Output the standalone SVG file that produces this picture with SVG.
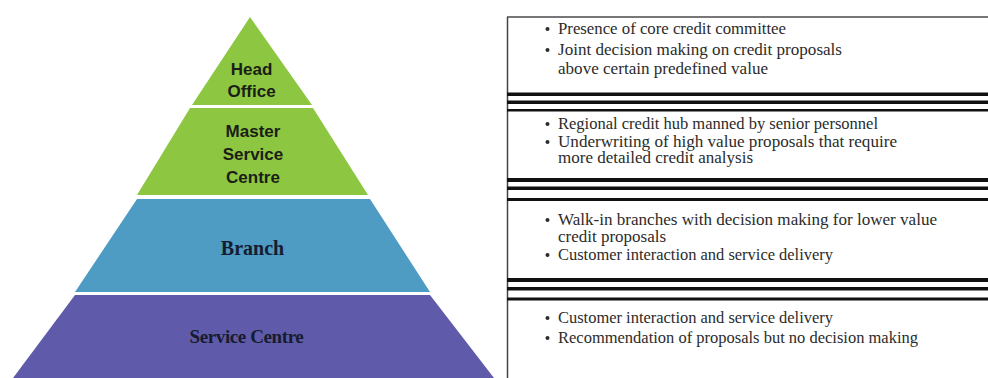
<svg xmlns="http://www.w3.org/2000/svg" width="988" height="378" viewBox="0 0 988 378">
<style>
.tier-label{font-family:"Liberation Sans",Arial,sans-serif;font-weight:bold;font-size:17px;fill:#1b1d17;text-anchor:middle}
.serif-label{font-family:"Liberation Serif","Times New Roman",serif;font-weight:bold;fill:#161c30;text-anchor:middle}
.desc{font-family:"Liberation Serif","Times New Roman",serif;font-size:16px;fill:#2b2b2b}
.bullet{fill:#2b2b2b}
.sep{fill:#111}
.border{stroke:#444;stroke-width:1.5;fill:none}
</style>
<rect width="988" height="378" fill="#fff"/>

<g id="head-office">
  <polygon points="250,17 312,105 192,105" fill="#8dc641"/>
  <text class="tier-label" x="251.5" y="75">Head</text>
  <text class="tier-label" x="251.5" y="97">Office</text>
</g>
<g id="master-service-centre">
  <polygon points="190,108 313,108 368,195 137,195" fill="#8dc641"/>
  <text class="tier-label" x="253" y="137">Master</text>
  <text class="tier-label" x="253" y="160">Service</text>
  <text class="tier-label" x="253" y="183">Centre</text>
</g>
<g id="branch">
  <polygon points="137,199 370,199 430,292 75,292" fill="#4e9bc3"/>
  <text class="serif-label" x="252.5" y="255" font-size="20">Branch</text>
</g>
<g id="service-centre">
  <polygon points="75,295 430,295 494,378 13,378" fill="#5f5aa9"/>
  <text class="serif-label" x="246.5" y="343" font-size="19" letter-spacing="-0.4">Service Centre</text>
</g>

<g id="panel-borders">
  <line x1="507" y1="17" x2="988" y2="17" stroke="#777" stroke-width="2"/>
  <line class="border" x1="507.5" y1="17" x2="507.5" y2="378"/>
</g>

<g id="connectors">
  <rect class="sep" x="507" y="92.5" width="481" height="3.5"/>
  <rect class="sep" x="507" y="100.5" width="481" height="3.5"/>
  <rect class="sep" x="507" y="109" width="481" height="2.5"/>

  <rect class="sep" x="507" y="178" width="481" height="4"/>
  <rect class="sep" x="507" y="186.5" width="481" height="3.5"/>
  <rect class="sep" x="507" y="198" width="481" height="3"/>

  <rect class="sep" x="507" y="278" width="481" height="4"/>
  <rect class="sep" x="507" y="287" width="481" height="3.5"/>
  <rect class="sep" x="507" y="297.5" width="481" height="3"/>
</g>

<g id="desc-head-office">
  <circle class="bullet" cx="547.5" cy="29" r="2"/>
  <text class="desc" x="558" y="34" textLength="228" lengthAdjust="spacingAndGlyphs">Presence of core credit committee</text>
  <circle class="bullet" cx="547.5" cy="50" r="2"/>
  <text class="desc" x="558" y="55" textLength="284" lengthAdjust="spacingAndGlyphs">Joint decision making on credit proposals</text>
  <text class="desc" x="558" y="74" textLength="210" lengthAdjust="spacingAndGlyphs">above certain predefined value</text>
</g>
<g id="desc-master-service-centre">
  <circle class="bullet" cx="547.5" cy="124" r="2"/>
  <text class="desc" x="558" y="129" textLength="320" lengthAdjust="spacingAndGlyphs">Regional credit hub manned by senior personnel</text>
  <circle class="bullet" cx="547.5" cy="142" r="2"/>
  <text class="desc" x="558" y="147" textLength="339" lengthAdjust="spacingAndGlyphs">Underwriting of high value proposals that require</text>
  <text class="desc" x="558" y="163" textLength="195" lengthAdjust="spacingAndGlyphs">more detailed credit analysis</text>
</g>
<g id="desc-branch">
  <circle class="bullet" cx="547.5" cy="220" r="2"/>
  <text class="desc" x="558" y="225" textLength="379" lengthAdjust="spacingAndGlyphs">Walk-in branches with decision making for lower value</text>
  <text class="desc" x="558" y="242" textLength="108" lengthAdjust="spacingAndGlyphs">credit proposals</text>
  <circle class="bullet" cx="547.5" cy="255" r="2"/>
  <text class="desc" x="558" y="260" textLength="275" lengthAdjust="spacingAndGlyphs">Customer interaction and service delivery</text>
</g>
<g id="desc-service-centre">
  <circle class="bullet" cx="547.5" cy="318" r="2"/>
  <text class="desc" x="558" y="323" textLength="275" lengthAdjust="spacingAndGlyphs">Customer interaction and service delivery</text>
  <circle class="bullet" cx="547.5" cy="338" r="2"/>
  <text class="desc" x="558" y="343" textLength="360" lengthAdjust="spacingAndGlyphs">Recommendation of proposals but no decision making</text>
</g>
</svg>
